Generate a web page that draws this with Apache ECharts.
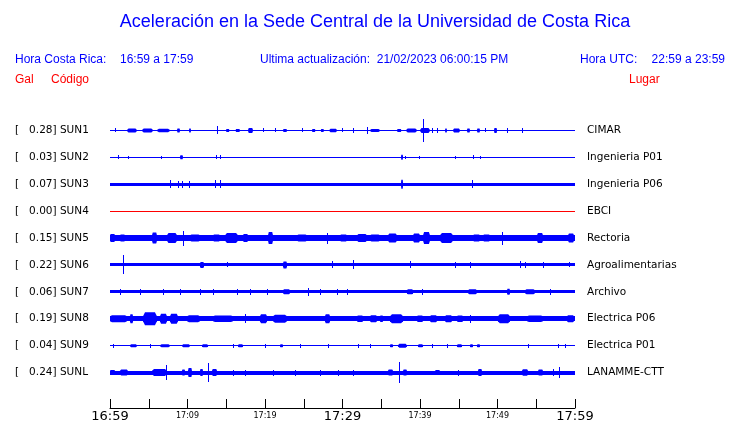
<!DOCTYPE html>
<html><head><meta charset="utf-8">
<script src="https://cdn.jsdelivr.net/npm/echarts@6/dist/echarts.min.js"></script>
<style>html,body{margin:0;padding:0;background:#fff}#c{width:740px;height:423px}</style>
</head><body><div id="c"></div>
<script>
// ---------- texts ----------
const titleText = 'Aceleración en la Sede Central de la Universidad de Costa Rica';
const localLabel = 'Hora Costa Rica:';
const localRange = '16:59 a 17:59';
const updateText = 'Ultima actualización:  21/02/2023 06:00:15 PM';
const utcLabel = 'Hora UTC:';
const utcRange = '22:59 a 23:59';
const colHeaders = ['Gal', 'Código', 'Lugar'];

// ---------- stations ----------
const codes  = ['SUN1','SUN2','SUN3','SUN4','SUN5','SUN6','SUN7','SUN8','SUN9','SUNL'];
const peaks  = [0.28, 0.03, 0.07, 0.00, 0.15, 0.22, 0.06, 0.19, 0.04, 0.24];
const places = ['CIMAR','Ingenieria P01','Ingenieria P06','EBCI','Rectoria','Agroalimentarias','Archivo','Electrica P06','Electrica P01','LANAMME-CTT'];

// time axis (minutes after 16:59) and its labels
const timeLabels  = ['16:59','17:09','17:19','17:29','17:39','17:49','17:59'];
const majorLabels = ['16:59','17:29','17:59'];

// background (continuous) half amplitude of each trace
const baseAmp = [0.5, 0.5, 1.75, 0.5, 2.8, 1.5, 1.5, 2.5, 0.5, 1.8];

// events per trace: [start minute, end minute, half amplitude]
const sun1 = [[0.65,0.65,1.5],[2.19,3.48,2],[4.13,5.55,2],[6.06,7.74,1.8],[8.65,9.03,2],[10.19,10.45,2],[13.81,13.81,3.5],[14.97,15.4,1.5],[16.2,16.77,1.5],[17.81,18.45,2.5],[19.74,19.74,1.5],[21.29,21.29,1.5],[22.32,22.84,1.5],[24.77,24.77,1.5],[26.06,26.5,1.5],[27.2,27.6,1.5],[28.3,29.29,1.8],[29.94,29.94,1.5],[31.35,31.35,2],[33.16,33.16,3],[33.55,34.84,1.5],[37.03,37.6,1.5],[38.2,39.61,2],[40.0,41.29,2.5],[40.39,40.39,11],[41.55,41.55,2],[42.19,42.19,2],[43.23,43.48,2],[44.26,45.16,2],[46.06,46.45,2],[47.35,47.74,2],[48.39,48.39,1.5],[49.55,49.94,2.5],[51.23,51.23,2],[53.16,53.16,2]];
const sun2 = [[1.03,1.03,1.5],[2.26,2.26,1],[6.52,6.52,1],[9.03,9.42,2],[13.68,13.68,1.5],[14.19,14.19,1.5],[37.55,37.81,2.5],[38.06,38.06,1],[39.81,39.81,1],[44.58,44.58,1],[46.84,46.84,1.5],[47.68,47.68,1]];
const sun3 = [[7.74,7.74,3.5],[8.71,8.71,3],[9.23,9.23,3],[10.19,10.19,3],[13.55,13.55,3.5],[14.19,14.19,3.5],[37.55,37.81,4.5],[46.71,46.71,3.5]];
const sun4 = [];
const sun5 = [[0,0.65,4],[1.29,1.94,3.5],[5.42,6.06,5.5],[7.35,8.65,5],[9.42,9.42,7],[10.32,11.61,3.5],[13.29,14.19,3.5],[14.84,16.52,5],[17.16,17.81,4],[20.39,21.03,6],[24.13,25.42,3.5],[28.0,28.13,5],[29.68,30.58,3.5],[31.87,33.16,4],[33.55,34.84,3.5],[35.87,37.03,4.5],[39.10,40.0,4.5],[40.39,41.29,6],[42.58,44.26,5],[46.84,47.74,3.5],[48.13,49.03,3.5],[50.58,50.71,6],[55.10,55.87,5],[59.10,59.87,4.5]];
const sun6 = [[1.68,1.68,9],[11.61,12.13,3],[15.10,15.10,2],[22.32,22.84,3.5],[28.65,28.65,3],[31.35,31.35,4],[38.71,38.71,3],[44.52,44.52,2.5],[46.45,46.45,2.5],[52.90,52.90,3],[53.55,53.55,2.5],[55.87,55.87,2.5],[59.2,59.2,2]];
const sun7 = [[1.29,1.29,2.5],[3.87,3.87,2.5],[6.84,6.84,2.5],[9.03,9.03,2.5],[11.61,11.61,2.5],[13.29,13.29,2.5],[16.39,16.39,2.5],[18.06,18.06,2.5],[20.26,20.26,2.5],[22.32,23.23,2.5],[25.55,25.55,3.5],[27.10,27.10,2.5],[29.29,29.29,2.5],[30.58,30.58,2.5],[38.32,39.10,2.5],[40.26,40.26,2.5],[46.19,47.35,2.5],[51.23,51.61,3],[53.55,54.84,2.5],[56.77,56.77,2.5]];
const sun8 = [[0,2.19,3.5],[2.58,2.97,4.5],[4.26,6.06,6.5],[6.45,7.35,5],[7.74,8.77,5],[9.94,11.61,3.5],[13.29,15.87,3.2],[17.42,17.42,4],[19.35,20.26,4.5],[21.03,22.84,4],[27.74,28.39,4.5],[31.87,32.65,3.2],[33.55,34.45,3.5],[34.84,35.23,3.2],[36.13,37.81,4.5],[39.61,40.39,3.2],[41.29,42.19,3.5],[43.23,44.13,3.5],[44.77,45.55,3.2],[46.45,46.45,3.5],[50.06,51.61,4.5],[53.81,55.87,3.2],[58.97,59.87,3.5]];
const sun9 = [[0.39,0.39,1.5],[2.58,3.48,1.5],[5.16,5.16,1.5],[6.45,7.74,1.5],[9.29,10.32,1.5],[11.87,12.65,1.5],[15.87,15.87,1.5],[16.52,17.16,1.5],[20.0,20.0,1.5],[21.94,22.32,1.5],[24.52,24.52,1.5],[28.13,28.13,1.5],[32.0,32.0,1.5],[33.55,33.55,1.5],[36.13,36.52,1.5],[37.16,38.32,2],[39.74,40.39,1.5],[41.55,41.55,1.5],[43.48,43.48,1.5],[44.77,45.42,1.5],[46.45,46.84,1.5],[47.35,47.74,1.5],[53.94,53.94,1.5],[57.81,57.81,1.5],[58.71,58.71,1.5]];
const sunL = [[0,0.65,2.5],[1.29,2.32,3],[5.42,7.35,3.5],[7.23,7.23,7],[9.29,9.68,3],[10.06,10.58,4.5],[11.61,12.0,3.5],[12.65,12.65,9],[13.16,13.81,3.5],[15.87,15.87,2.5],[17.42,17.42,2.5],[21.03,21.03,2.5],[23.87,23.87,2.5],[27.10,27.10,2.5],[29.42,29.42,2.5],[31.35,31.35,2.5],[35.87,36.52,3],[37.29,37.29,10],[37.81,38.32,3],[41.94,42.58,2.5],[44.90,44.90,2.5],[47.48,48.0,3.5],[53.16,53.94,3.2],[55.23,55.87,3],[57.16,57.16,3],[57.94,57.94,5]];
const traceEvents = [sun1, sun2, sun3, sun4, sun5, sun6, sun7, sun8, sun9, sunL];

// ---------- build ----------
const SPACING = 27;          // trace spacing in amplitude units
const DURATION = 60;         // minutes shown
const BLUE = '#0000ff', RED = '#ff0000';

const traceData = [];
codes.forEach(function (code, i) {
  const row = i + 1, flat = peaks[i] === 0 ? 1 : 0;
  traceData.push([0, DURATION, baseAmp[i], row, baseAmp[i], flat]);
  traceEvents[i].forEach(function (ev) {
    traceData.push([ev[0], ev[1], ev[2], row, baseAmp[i], flat]);
  });
});

const leftLabels = codes.map(function (c, i) { return '[   ' + peaks[i].toFixed(2) + '] ' + c; });

function renderTrace(params, api) {
  const m0 = api.value(0), m1 = api.value(1), amp = api.value(2), row = api.value(3), base = api.value(4), flat = api.value(5);
  const yc = row * SPACING;
  const p0 = api.coord([m0, yc]), p1 = api.coord([m1, yc]);
  const cy = p0[1];
  const a = Math.abs(api.coord([m0, yc - amp])[1] - cy);
  const b = Math.abs(api.coord([m0, yc - base])[1] - cy);
  const fill = flat ? RED : BLUE;
  const w = p1[0] - p0[0];
  if (amp === base) {
    const h = Math.max(1, Math.round(2 * a));
    return { type: 'rect', shape: { x: Math.round(p0[0]), y: Math.round(cy - h / 2), width: Math.round(w), height: h }, style: { fill: fill } };
  }
  if (w < 1.5) {
    const h = Math.round(2 * a) + 1;
    return { type: 'rect', shape: { x: Math.round(p0[0]), y: Math.round(cy - h / 2), width: 1, height: h }, style: { fill: fill } };
  }
  const q = Math.min(w * 0.15, 2);
  return {
    type: 'polygon',
    shape: { points: [[p0[0], cy - b], [p0[0] + q, cy - a], [p1[0] - q, cy - a], [p1[0], cy - b],
                      [p1[0], cy + b], [p1[0] - q, cy + a], [p0[0] + q, cy + a], [p0[0], cy + b]] },
    style: { fill: fill }
  };
}

const headFont = '12px "Liberation Sans", Arial, sans-serif';
function txt(text, x, y, color, align) {
  return { type: 'text', x: x, y: y, style: { text: text, fill: color, font: headFont, textAlign: align || 'left', textVerticalAlign: 'middle' } };
}

const chart = echarts.init(document.getElementById('c'), null, { renderer: 'canvas' });
chart.setOption({
  animation: false,
  backgroundColor: '#ffffff',
  graphic: [
    { type: 'text', x: 375, y: 22, style: { text: titleText, fill: BLUE, font: '18px "Liberation Sans", Arial, sans-serif', textAlign: 'center', textVerticalAlign: 'middle' } },
    txt(localLabel, 15, 60, BLUE),
    txt(localRange, 120, 60, BLUE),
    txt(updateText, 260, 60, BLUE),
    txt(utcLabel, 580, 60, BLUE),
    txt(utcRange, 725, 60, BLUE, 'right'),
    txt(colHeaders[0], 15, 80, RED),
    txt(colHeaders[1], 51, 80, RED),
    txt(colHeaders[2], 629, 80, RED)
  ],
  grid: { left: 110, right: 165, top: 117, bottom: 36, containLabel: false },
  xAxis: {
    type: 'value', min: 0, max: DURATION, interval: 5, position: 'bottom', offset: 22,
    axisLine: { lineStyle: { color: '#000', width: 1 } },
    axisTick: { inside: true, length: 9, lineStyle: { color: '#000', width: 1 } },
    splitLine: { show: false },
    axisLabel: {
      margin: 2, showMinLabel: true, showMaxLabel: true, color: '#000',
      formatter: function (v) {
        if (v % 10 !== 0) return '';
        const t = timeLabels[v / 10];
        return majorLabels.indexOf(t) >= 0 ? '{big|' + t + '}' : '{small|' + t + '}';
      },
      rich: {
        big: { fontSize: 13, fontFamily: 'DejaVu Sans', color: '#000' },
        small: { fontSize: 8, fontFamily: 'DejaVu Sans', color: '#000', padding: [2, 0, 0, 0] }
      }
    }
  },
  yAxis: [
    { type: 'value', min: SPACING / 2, max: SPACING * (codes.length + 0.5), inverse: true, show: false },
    { type: 'category', data: leftLabels, inverse: true, position: 'left',
      axisLine: { show: false }, axisTick: { show: false }, splitLine: { show: false },
      axisLabel: { align: 'left', margin: 95, color: '#000', fontFamily: 'DejaVu Sans', fontSize: 10.5 } },
    { type: 'category', data: places, inverse: true, position: 'right',
      axisLine: { show: false }, axisTick: { show: false }, splitLine: { show: false },
      axisLabel: { margin: 12, color: '#000', fontFamily: 'DejaVu Sans', fontSize: 10.5 } }
  ],
  series: [{
    type: 'custom', xAxisIndex: 0, yAxisIndex: 0,
    renderItem: renderTrace,
    encode: { x: [0, 1], y: 3 },
    data: traceData
  }]
});
</script>
</body></html>
